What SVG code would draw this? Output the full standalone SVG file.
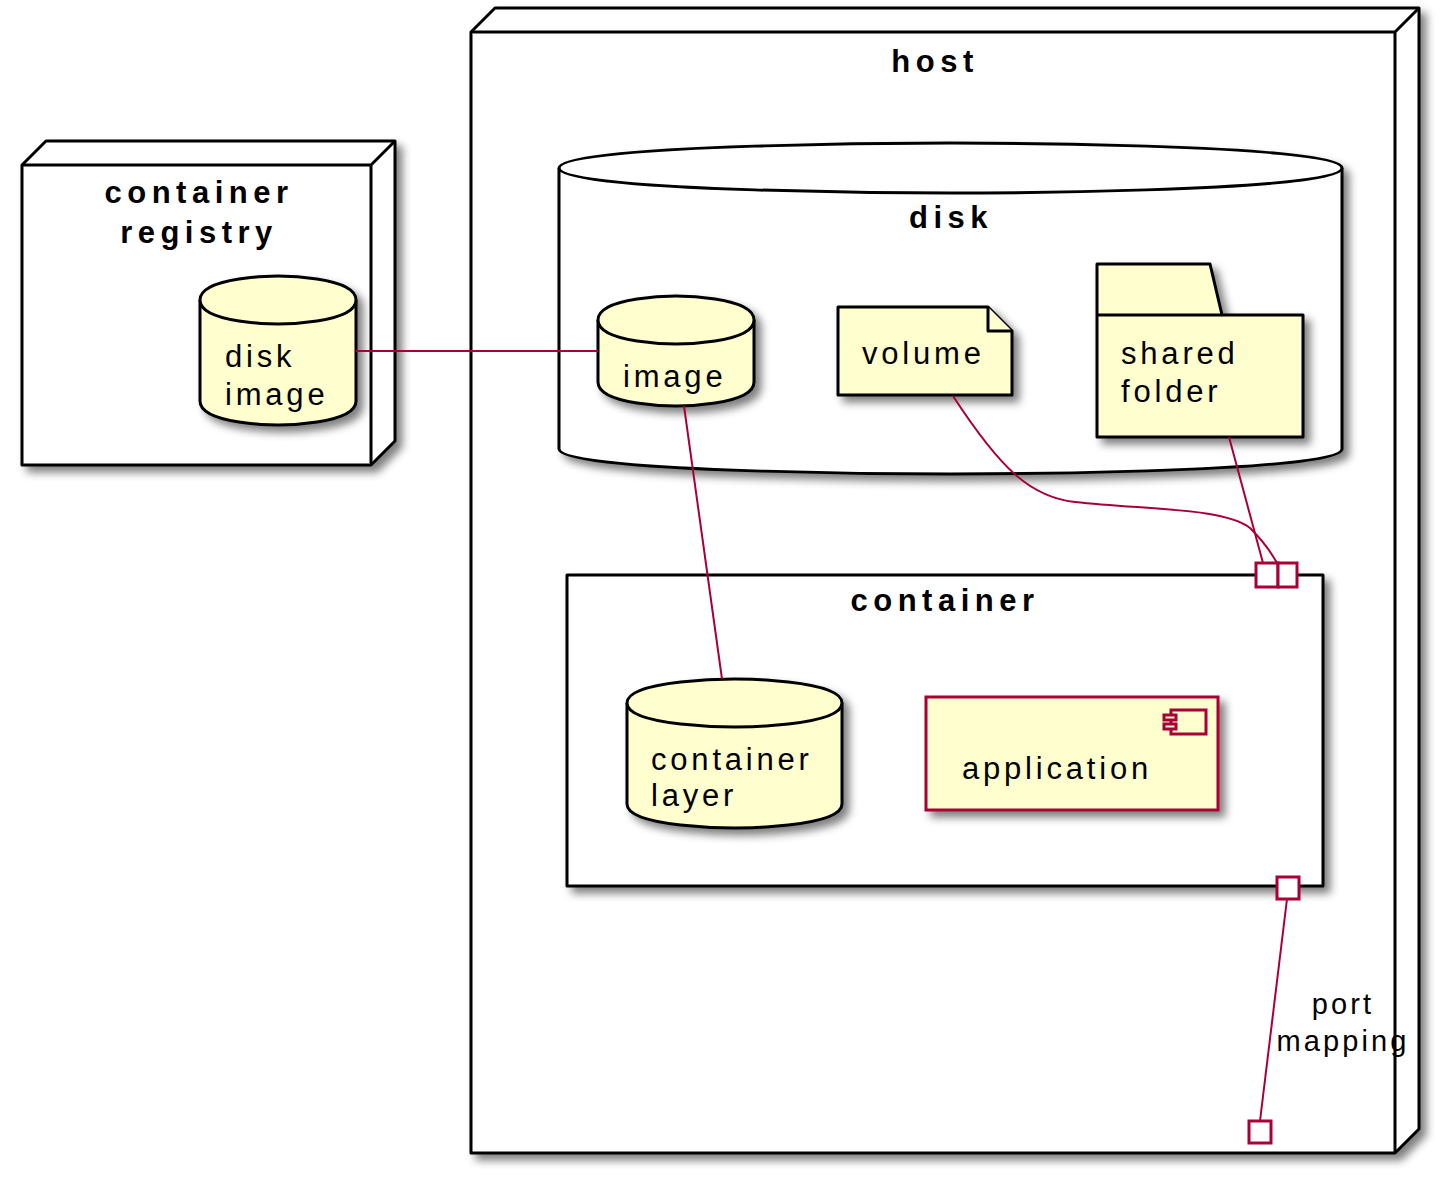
<svg xmlns="http://www.w3.org/2000/svg" width="1450" height="1184" viewBox="0 0 1450 1184">
<defs>
<filter id="sh" x="-10%" y="-10%" width="130%" height="130%">
<feGaussianBlur in="SourceAlpha" stdDeviation="4" result="b"/>
<feOffset in="b" dx="6" dy="6" result="o"/>
<feComponentTransfer in="o" result="c"><feFuncA type="linear" slope="0.5"/></feComponentTransfer>
<feMerge><feMergeNode in="c"/><feMergeNode in="SourceGraphic"/></feMerge>
</filter>
<style>
.box{fill:#FFFFFF;stroke:#000000;stroke-width:3;stroke-linejoin:round}
.el{fill:#FEFECE;stroke:#000000;stroke-width:3;stroke-linejoin:round}
.comp{fill:#FEFECE;stroke:#A80036;stroke-width:3}
.port{fill:#FFFFFF;stroke:#A80036;stroke-width:3}
.ln{fill:none;stroke:#A80036;stroke-width:2}
.t{font-family:"Liberation Sans",Arial,sans-serif;font-size:31px;letter-spacing:3.8px;fill:#000000}
.b{font-family:"Liberation Sans",Arial,sans-serif;font-size:31px;font-weight:bold;letter-spacing:5.5px;fill:#000000;text-anchor:middle}
.lbl{font-family:"Liberation Sans",Arial,sans-serif;font-size:29px;letter-spacing:3.1px;fill:#000000;text-anchor:middle}
</style>
</defs>
<rect width="1450" height="1184" fill="#FFFFFF"/>

<g id="registry">
<g filter="url(#sh)">
<path class="box" d="M22,165 L46,141 L395,141 L395,441 L371,465 L22,465 Z"/>
</g>
<path class="box" d="M22,165 L371,165 L371,465 M371,165 L395,141" fill="none"/>
<text class="b" x="199" y="203">container</text>
<text class="b" x="199" y="243">registry</text>
</g>

<g id="diskimage" filter="url(#sh)">
<path class="el" d="M200,300 C200,276 278,276 278,276 C278,276 356,276 356,300 L356,401 C356,425 278,425 278,425 C278,425 200,425 200,401 Z"/>
<path class="el" fill="none" d="M200,300 C200,324 278,324 278,324 C278,324 356,324 356,300"/>
</g>
<text class="t" x="225" y="367">disk</text>
<text class="t" x="225" y="405">image</text>

<g id="host">
<g filter="url(#sh)">
<path class="box" d="M471,32 L495,8 L1419,8 L1419,1129 L1395,1153 L471,1153 Z"/>
</g>
<path class="box" d="M471,32 L1395,32 L1395,1153 M1395,32 L1419,8" fill="none"/>
<text class="b" x="935" y="72">host</text>
</g>

<g id="disk">
<g filter="url(#sh)">
<path class="box" d="M559,168 C559,143 950.5,143 950.5,143 C950.5,143 1342,143 1342,168 L1342,449 C1342,474 950.5,474 950.5,474 C950.5,474 559,474 559,449 Z"/>
</g>
<path class="box" fill="none" d="M559,168 C559,193 950.5,193 950.5,193 C950.5,193 1342,193 1342,168"/>
<text class="b" x="951" y="228">disk</text>
</g>

<g id="image">
<g filter="url(#sh)">
<path class="el" d="M598,320 C598,296 676,296 676,296 C676,296 754,296 754,320 L754,382 C754,406 676,406 676,406 C676,406 598,406 598,382 Z"/>
<path class="el" fill="none" d="M598,320 C598,344 676,344 676,344 C676,344 754,344 754,320"/>
</g>
<text class="t" x="623" y="387">image</text>
</g>

<g id="volume">
<path class="el" filter="url(#sh)" d="M838,307 L988,307 L1012,331 L1012,395 L838,395 Z"/>
<path class="el" d="M988,307 L988,331 L1012,331"/>
<text class="t" x="862" y="364">volume</text>
</g>

<g id="sharedfolder">
<path class="el" filter="url(#sh)" d="M1097,264 L1210,264 L1222,315 L1303,315 L1303,437 L1097,437 Z"/>
<path class="el" fill="none" d="M1097,315 L1222,315"/>
<text class="t" x="1121" y="364">shared</text>
<text class="t" x="1121" y="402">folder</text>
</g>

<g id="container">
<rect class="box" filter="url(#sh)" x="567" y="575" width="756" height="311"/>
<text class="b" x="945" y="611">container</text>
</g>

<g id="containerlayer" filter="url(#sh)">
<path class="el" d="M627,703 C627,679 734.5,679 734.5,679 C734.5,679 842,679 842,703 L842,804 C842,828 734.5,828 734.5,828 C734.5,828 627,828 627,804 Z"/>
<path class="el" fill="none" d="M627,703 C627,727 734.5,727 734.5,727 C734.5,727 842,727 842,703"/>
</g>
<text class="t" x="651" y="770">container</text>
<text class="t" x="651" y="806">layer</text>

<g id="application">
<rect class="comp" filter="url(#sh)" x="926" y="697" width="292" height="113"/>
<rect class="comp" x="1171" y="710" width="35" height="24"/>
<rect class="comp" x="1164" y="715" width="12" height="5" stroke-width="2.5"/>
<rect class="comp" x="1164" y="724" width="12" height="5" stroke-width="2.5"/>
<text class="t" x="962" y="779">application</text>
</g>

<g id="connectors">
<path class="ln" d="M356,351 L598,351"/>
<path class="ln" d="M684,406 L722,679"/>
<path class="ln" d="M953,396 C1000,468 1030,497 1075,502 C1150,510 1225,508 1250,528 C1262,540 1270,550 1277,563"/>
<path class="ln" d="M1229,437 L1263,563"/>
<path class="ln" d="M1287,899 L1260,1121"/>
<text class="lbl" x="1343" y="1014">port</text>
<text class="lbl" x="1343" y="1051">mapping</text>
</g>

<g id="ports">
<rect class="port" x="1256" y="563" width="22" height="24"/>
<rect class="port" x="1278" y="563" width="19" height="24"/>
<rect class="port" x="1277" y="877" width="22" height="22"/>
<rect class="port" x="1249" y="1121" width="22" height="22"/>
</g>
</svg>
